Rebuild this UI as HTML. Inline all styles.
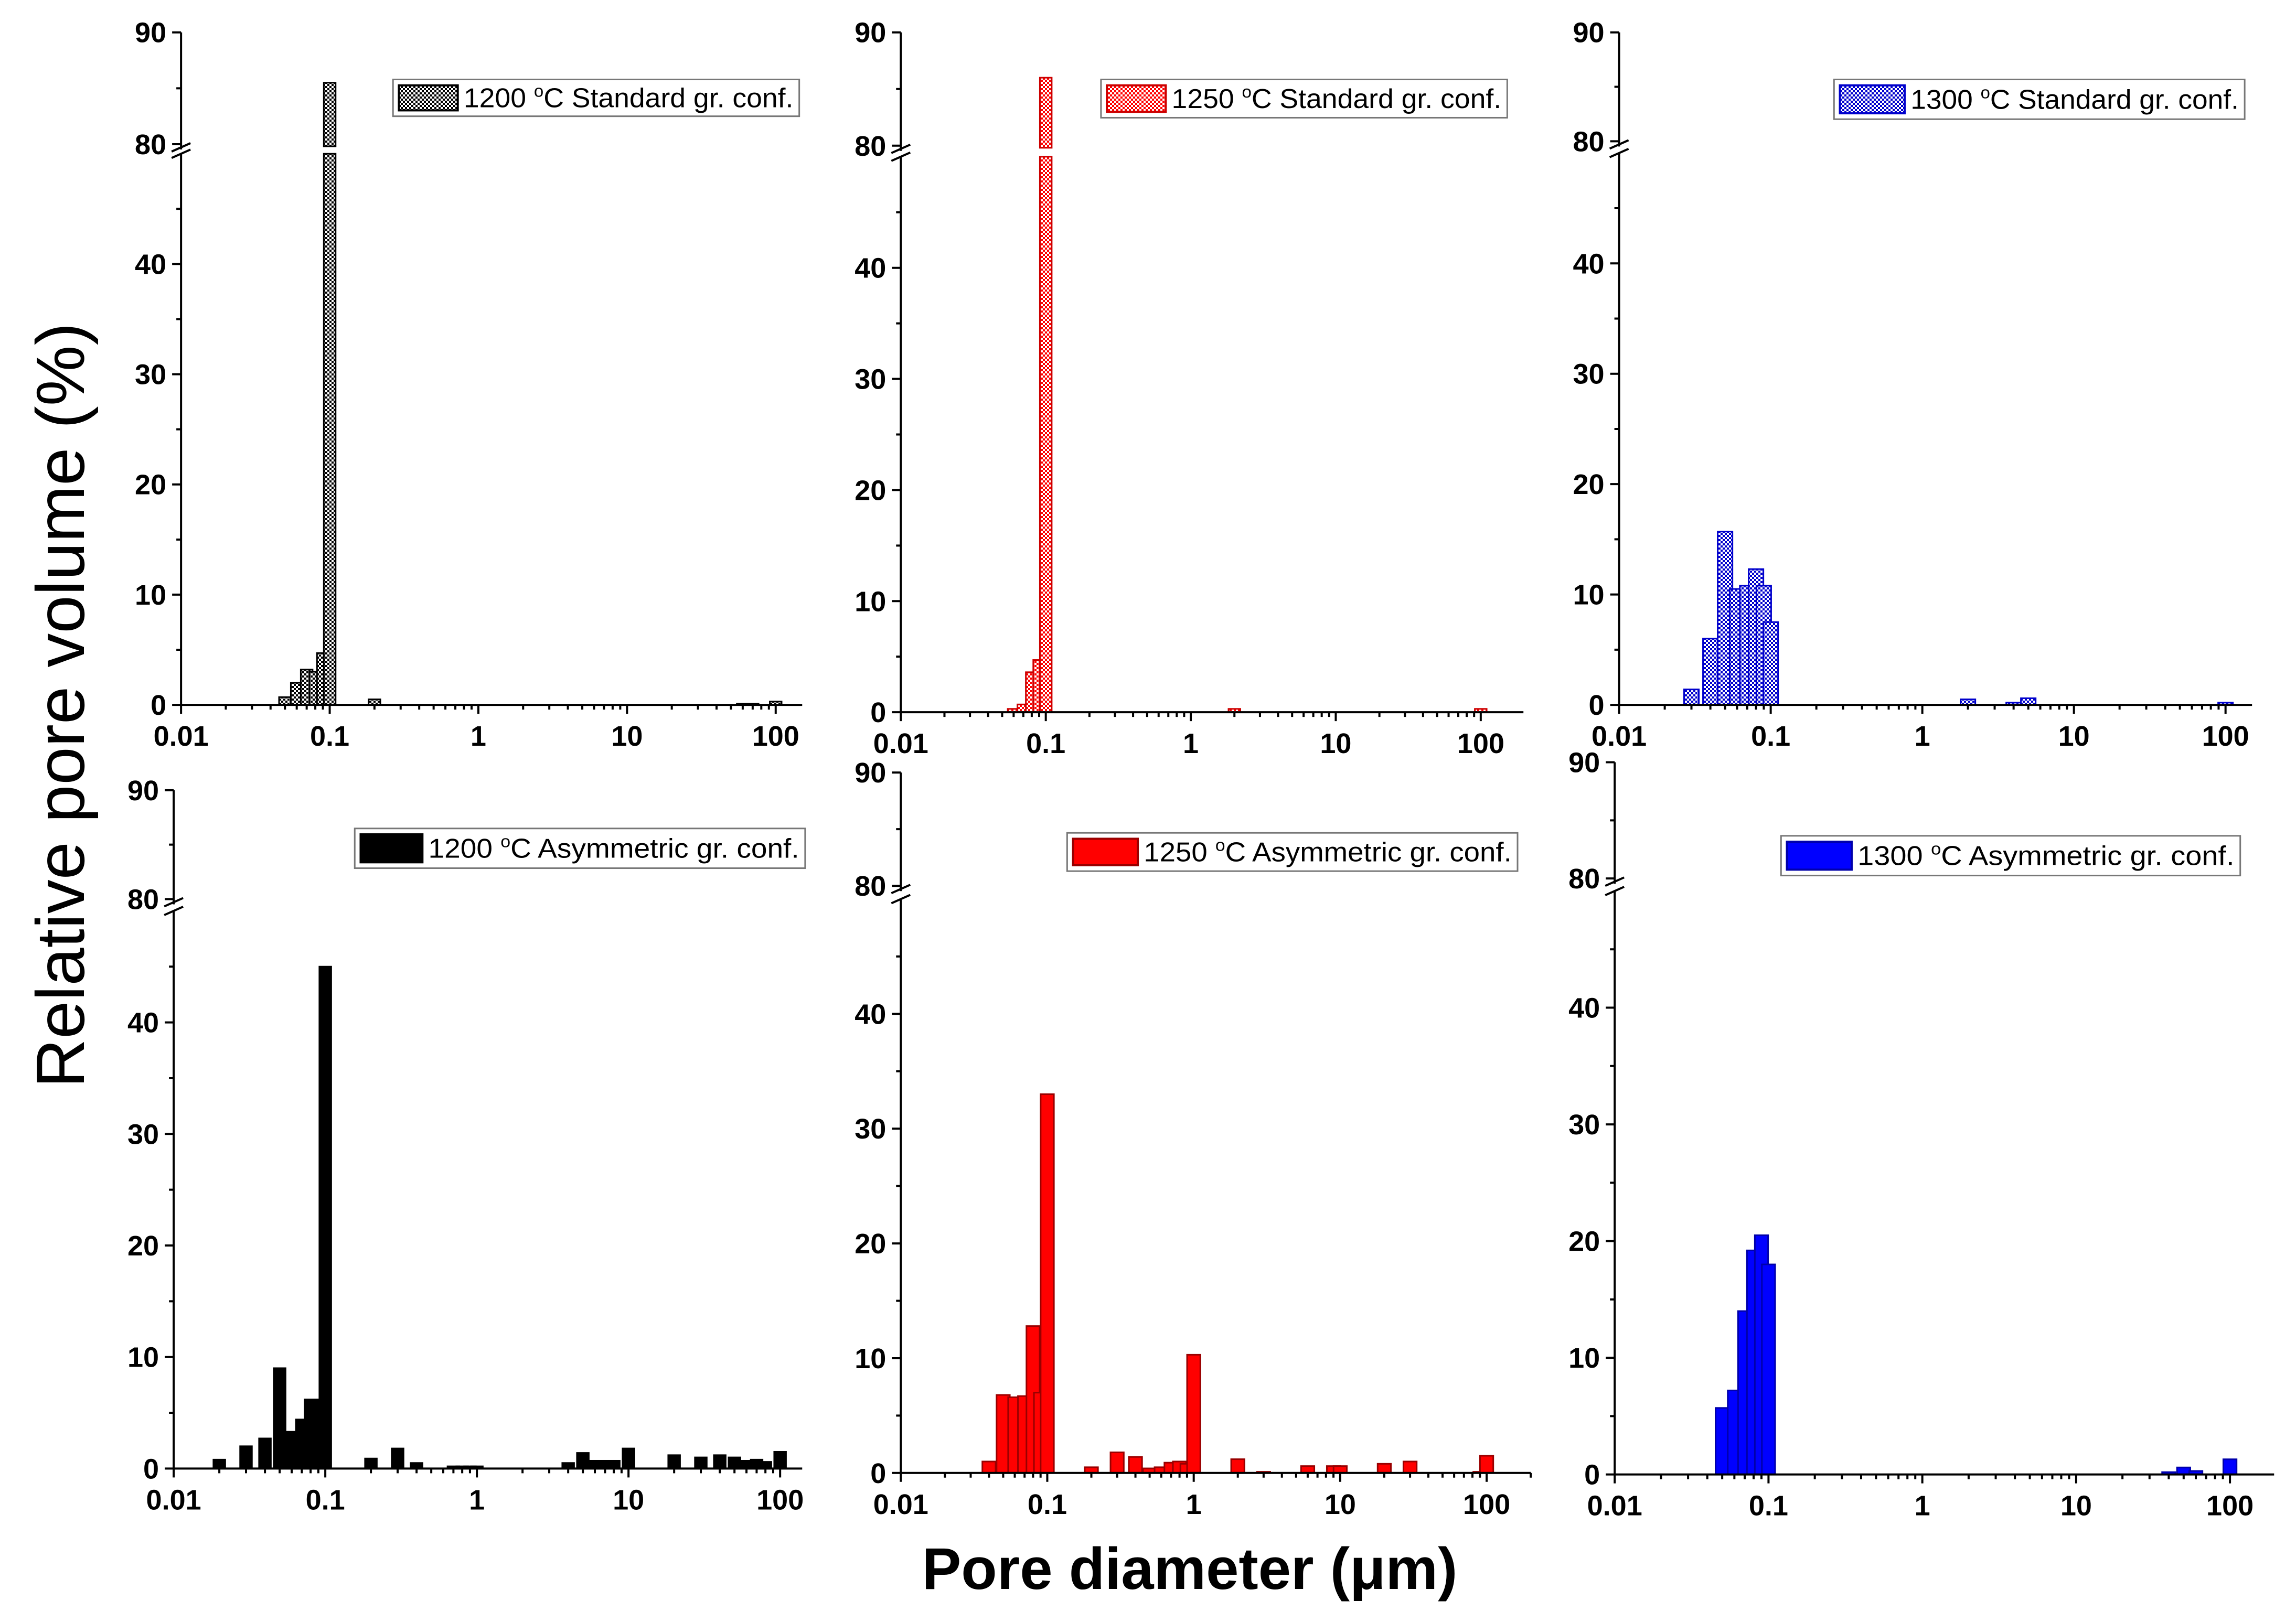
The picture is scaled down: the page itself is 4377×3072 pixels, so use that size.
<!DOCTYPE html>
<html><head><meta charset="utf-8"><title>Pore size distribution</title>
<style>html,body{margin:0;padding:0;background:#fff}svg{display:block}</style></head>
<body>
<svg id="fig" xmlns="http://www.w3.org/2000/svg" width="4377" height="3072" viewBox="0 0 4377 3072" font-family="'Liberation Sans', Arial, sans-serif">
<defs>
<pattern id="chkBlack" width="8" height="8" patternUnits="userSpaceOnUse"><rect width="8" height="8" fill="#fff"/><rect width="4" height="4" fill="#000"/><rect x="4" y="4" width="4" height="4" fill="#000"/></pattern>
<pattern id="chkRed" width="8" height="8" patternUnits="userSpaceOnUse"><rect width="8" height="8" fill="#fff"/><rect width="4" height="4" fill="#f00"/><rect x="4" y="4" width="4" height="4" fill="#f00"/></pattern>
<pattern id="chkBlue" width="8" height="8" patternUnits="userSpaceOnUse"><rect width="8" height="8" fill="#fff"/><rect width="4" height="4" fill="#00c"/><rect x="4" y="4" width="4" height="4" fill="#00c"/></pattern>
</defs>
<g id="root"></g>
<text transform="translate(160,1345) rotate(-90)" text-anchor="middle" font-size="130" fill="#000">Relative pore volume (%)</text>
<text x="2268" y="3030" text-anchor="middle" font-size="112" font-weight="bold" fill="#000">Pore diameter (μm)</text>
</svg>
<script>
// ---- data (pore diameter in µm, relative volume in %) ----
const xTickLabels = ["0.01","0.1","1","10","100"];
const yTickLabels = ["0","10","20","30","40","80","90"];
const yTickValues = [0,10,20,30,40,80,90];

const s1200X = [0.05,0.06,0.07,0.08,0.09,0.1,0.2,60,70,100];
const s1200Y = [0.7,2.0,3.2,3.0,4.7,85.5,0.5,0.1,0.1,0.3];
const s1250X = [0.06,0.07,0.08,0.09,0.1,2,100];
const s1250Y = [0.3,0.7,3.6,4.7,86,0.3,0.3];
const s1300X = [0.03,0.04,0.05,0.06,0.07,0.08,0.09,0.1,2,4,5,100];
const s1300Y = [1.4,6.0,15.7,10.5,10.8,12.3,10.8,7.5,0.5,0.2,0.6,0.2];
const a1200X = [0.02,0.03,0.04,0.05,0.06,0.07,0.08,0.09,0.1,0.2,0.3,0.4,0.7,0.8,0.9,1,4,5,6,7,8,10,20,30,40,50,60,70,80,100];
const a1200Y = [0.8,2.0,2.7,9.0,3.3,4.4,6.2,6.2,45,0.9,1.8,0.5,0.2,0.2,0.2,0.2,0.5,1.4,0.7,0.7,0.7,1.8,1.2,1.0,1.2,1.0,0.7,0.8,0.6,1.5];
const a1250X = [0.04,0.05,0.06,0.07,0.08,0.09,0.1,0.2,0.3,0.4,0.5,0.6,0.7,0.8,0.9,1,2,3,6,9,10,20,30,90,100];
const a1250Y = [1.0,6.8,6.6,6.7,12.8,7.0,33,0.5,1.8,1.4,0.4,0.5,0.9,1.0,0.8,10.3,1.2,0.1,0.6,0.6,0.6,0.8,1.0,0.1,1.5];
const a1300X = [0.05,0.06,0.07,0.08,0.09,0.1,40,50,60,100];
const a1300Y = [5.7,7.2,14.0,19.2,20.5,18.0,0.2,0.6,0.3,1.3];

const legendLabels = ["Standard gr. conf.","Standard gr. conf.","Standard gr. conf.","Asymmetric gr. conf.","Asymmetric gr. conf.","Asymmetric gr. conf."];
const legendTemps = ["1200","1250","1300","1200","1250","1300"];

// ---- layout (display coordinates ×S) ----
const S = 2.806;
const NS = "http://www.w3.org/2000/svg";
const root = document.getElementById('root');
function el(tag, attrs, parent){const e=document.createElementNS(NS,tag);for(const k in attrs)e.setAttribute(k,attrs[k]);(parent||root).appendChild(e);return e;}

const geoms = [
 {ax:123, dec:101, xe:545, y0:479, unit:7.49, y80:98, y90:22, lg:[267,54,276,25,40], fill:'url(#chkBlack)', stroke:'#000', bw:8},
 {ax:612, dec:98.5, xe:1035, y0:484, unit:7.55, y80:99, y90:22, lg:[748,54,276,26,40], fill:'url(#chkRed)', stroke:'#c00', bw:8},
 {ax:1100, dec:103, xe:1530, y0:479, unit:7.5, y80:96, y90:22, lg:[1246,54,279,27,44], fill:'url(#chkBlue)', stroke:'#00c', bw:10},
 {ax:118, dec:103, xe:545, y0:998, unit:7.58, y80:611, y90:537, lg:[241,563,306,27,42], fill:'#000', stroke:'#000', bw:8},
 {ax:612, dec:99.5, xe:1040, y0:1001, unit:7.8, y80:602, y90:525, lg:[725,566,306,26,44], fill:'#f00', stroke:'#900', bw:9},
 {ax:1097, dec:104.5, xe:1545, y0:1002, unit:7.93, y80:597, y90:518, lg:[1210,568,312,27,44], fill:'#00f', stroke:'#00a', bw:9}
];
const seriesX = [s1200X,s1250X,s1300X,a1200X,a1250X,a1300X];
const seriesY = [s1200Y,s1250Y,s1300Y,a1200Y,a1250Y,a1300Y];
const panelNames = ['panel-1200-standard','panel-1250-standard','panel-1300-standard','panel-1200-asymmetric','panel-1250-asymmetric','panel-1300-asymmetric'];

geoms.forEach((g,pi)=>{
  const grp = el('g',{});
  
  
  const xMap = v => (g.ax + Math.log10(v/0.01)*g.dec)*S;
  const yMap = v => {
    if (v <= 50) return (g.y0 - v*g.unit)*S;
    if (v >= 80) return (g.y80 - (v-80)*(g.y80-g.y90)/10)*S;
    return (g.y0 - 50*g.unit)*S;
  };
  const axX = g.ax*S, baseY = g.y0*S, lowTop = yMap(50), upBot = g.y80*S+10, upTop = g.y90*S;
  const bars = el('g',{},grp);
  
  
  seriesX[pi].forEach((xv,i)=>{
    const v = seriesY[pi][i];
    const cx = xMap(xv), w = g.bw*S;
    const top = yMap(Math.min(v,50));
    const r = el('rect',{x:cx-w/2,y:top,width:w,height:baseY-top,fill:g.fill,stroke:g.stroke,'stroke-width':3},bars);
    
    
    if (v > 80) {
      const t2 = yMap(v), b2 = g.y80*S + 4;
      const r2 = el('rect',{x:cx-w/2,y:t2,width:w,height:b2-t2,fill:g.fill,stroke:g.stroke,'stroke-width':3},bars);
      
      
    }
  });
  const yax = el('path',{d:`M${axX},${baseY} V${lowTop} M${axX},${upBot} V${upTop}`,stroke:'#000','stroke-width':4,fill:'none'},grp);
  
  
  const brk = el('path',{d:`M${axX-18},${upBot+4} L${axX+18},${upBot-12} M${axX-18},${lowTop+8} L${axX+18},${lowTop-8}`,stroke:'#000','stroke-width':4,fill:'none'},grp);
  
  
  const xax = el('line',{x1:axX,y1:baseY,x2:g.xe*S,y2:baseY,stroke:'#000','stroke-width':4},grp);
  
  
  let d='';
  for (let e=0;e<5;e++){
    const base = 0.01*Math.pow(10,e);
    d += `M${xMap(base)},${baseY} v17 `;
    for (let m=2;m<=9;m++){const xv=base*m; const px=xMap(xv); if(px<=g.xe*S+1) d+=`M${px},${baseY} v9 `;}
  }
  const xt = el('path',{d:d,stroke:'#000','stroke-width':4},grp);
  
  
  xTickLabels.forEach((lab,i)=>{
    const t = el('text',{x:xMap(0.01*Math.pow(10,i)),y:baseY+78,'text-anchor':'middle','font-size':54,'font-weight':'bold'},grp);
    t.textContent = lab;
    
    
  });
  let dy='';
  [0,10,20,30,40,80,90].forEach(v=>{dy+=`M${axX},${yMap(v)} h-17 `;});
  [5,15,25,35,45,85].forEach(v=>{dy+=`M${axX},${yMap(v)} h-9 `;});
  const yt = el('path',{d:dy,stroke:'#000','stroke-width':4},grp);
  
  
  yTickLabels.forEach((lab,i)=>{
    const t = el('text',{x:axX-28,y:yMap(yTickValues[i])+19,'text-anchor':'end','font-size':54,'font-weight':'bold'},grp);
    t.textContent = lab;
    
    
  });
  const [lx,ly,lw,lh,sw] = g.lg;
  const lgG = el('g',{},grp);
  
  
  el('rect',{x:lx*S,y:ly*S,width:lw*S,height:lh*S,fill:'#fff',stroke:'#777','stroke-width':3},lgG);
  const swr = el('rect',{x:(lx+4)*S,y:(ly+4)*S,width:sw*S,height:(lh-8)*S,fill:g.fill,stroke:g.stroke,'stroke-width':4},lgG);
  
  
  const tx = (lx+sw+8)*S, tw = (lw-sw-12)*S;
  const t = el('text',{x:tx,y:(ly+lh/2)*S+18,'font-size':52,textLength:tw,lengthAdjust:'spacingAndGlyphs'},lgG);
  
  
  const a = document.createElementNS(NS,'tspan'); a.textContent = legendTemps[pi]+' '; t.appendChild(a);
  const b = document.createElementNS(NS,'tspan'); b.setAttribute('dy','-20'); b.setAttribute('font-size','32'); b.textContent='o'; t.appendChild(b);
  const c = document.createElementNS(NS,'tspan'); c.setAttribute('dy','20'); c.textContent='C '+legendLabels[pi]; t.appendChild(c);
});
</script>
</body></html>
